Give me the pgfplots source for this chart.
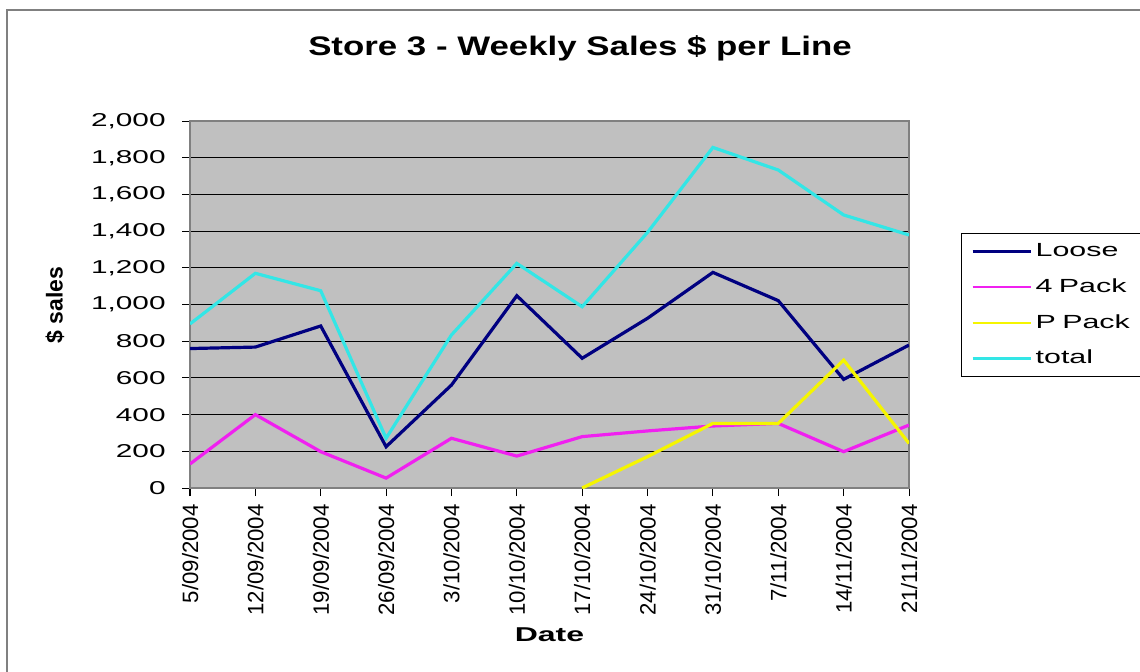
\documentclass[border=0pt]{standalone}
\usepackage{fontspec}
\setmainfont{Liberation Sans}
\newfontfamily\wideA{Liberation Sans}[FakeStretch=1.6]
\newfontfamily\wideT{Liberation Sans}[FakeStretch=1.3]
\usepackage{pgfplots}
\pgfplotsset{compat=1.18}
\definecolor{plotgray}{HTML}{C0C0C0}
\definecolor{bordergray}{HTML}{808080}
\definecolor{cLoose}{HTML}{000080}
\definecolor{cFour}{HTML}{F020F0}
\definecolor{cP}{HTML}{F5F500}
\definecolor{cTotal}{HTML}{33E6E6}
\begin{document}
\begin{tikzpicture}
\path[use as bounding box] (-95pt,-91.5pt) rectangle (475pt,244pt);
\draw[bordergray, line width=0.8pt] (-91.5pt,-94pt) rectangle (478pt,239pt);
\begin{axis}[
  scale only axis, width=359.5pt, height=183.5pt,
  xmin=0, xmax=11, ymin=0, ymax=2000,
  xtick={0,...,11},
  xticklabels={5/09/2004,12/09/2004,19/09/2004,26/09/2004,3/10/2004,10/10/2004,17/10/2004,24/10/2004,31/10/2004,7/11/2004,14/11/2004,21/11/2004},
  ytick={0,200,...,2000},
  /pgf/number format/assume math mode=true,
  /pgf/number format/1000 sep={,},
  yticklabel style={font=\wideA\fontsize{9.3}{11}\selectfont, inner sep=0pt, anchor=east, xshift=-8pt},
  xticklabel style={font=\fontsize{11.1}{13}\selectfont, rotate=90, anchor=east, inner sep=0pt, text depth=0pt, xshift=-4pt},
  axis background/.style={fill=plotgray},
  ymajorgrids, major grid style={black, line width=0.5pt},
  axis line style={bordergray, line width=1.1pt},
  tick align=outside, xtick pos=bottom, ytick pos=left,
  major tick length=4pt,
  tick style={black, line width=0.5pt},
  legend cell align=left,
  legend style={at={(1.0723,0.6948)}, anchor=north west, draw=black, line width=0.5pt, fill=white,
    font=\wideA\fontsize{9.5}{11}\selectfont, row sep=5.5pt, inner xsep=5pt, inner ysep=3pt,
    nodes={inner sep=2pt, text depth=0.15em, text width=72pt}},
  legend image code/.code={\draw[#1, line width=1.1pt] (0pt,0pt) -- (29pt,0pt);},
  every axis plot/.append style={line width=1.6pt},
]
\addplot[cLoose] coordinates {(0,760)(1,768)(2,883)(3,225)(4,561)(5,1048)(6,707)(7,925)(8,1175)(9,1021)(10,592)(11,779)};
\addlegendentry{Loose}
\addplot[cFour] coordinates {(0,131)(1,400)(2,198)(3,54)(4,271)(5,174)(6,280)(7,311)(8,338)(9,352)(10,198)(11,343)};
\addlegendentry{4 Pack}
\addplot[cP] coordinates {(6,0)(7,171)(8,352)(9,352)(10,697)(11,243)};
\addlegendentry{P Pack}
\addplot[cTotal] coordinates {(0,894)(1,1170)(2,1075)(3,271)(4,834)(5,1224)(6,988)(7,1393)(8,1856)(9,1733)(10,1488)(11,1379)};
\addlegendentry{total}
\end{axis}
\node[anchor=base, font=\wideT\bfseries\fontsize{13.4}{16}\selectfont] at (195pt,216pt) {Store 3 - Weekly Sales \$ per Line};
\node[font=\wideA\bfseries\fontsize{10}{12}\selectfont] at (179.75pt,-73.5pt) {Date};
\node[rotate=90, font=\bfseries\fontsize{11.5}{13}\selectfont] at (-67.5pt,91.5pt) {\$ sales};
\end{tikzpicture}
\end{document}
